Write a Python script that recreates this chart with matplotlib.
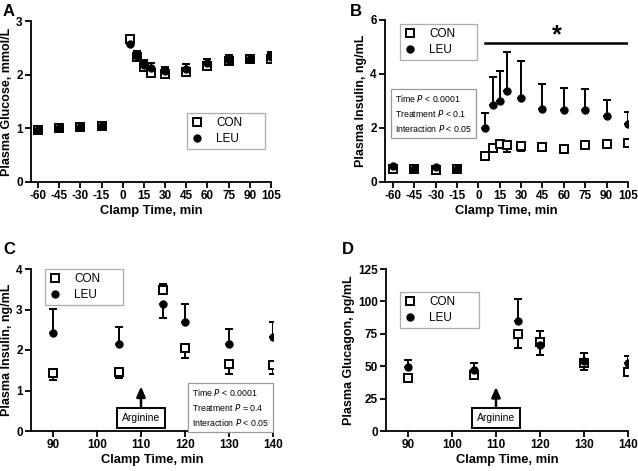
import matplotlib.pyplot as plt
import numpy as np

plt.rcParams['font.family'] = ['Liberation Sans', 'DejaVu Sans']
plt.rcParams['axes.unicode_minus'] = False

# Panel A: plasma glucose
t_ab = [-60, -45, -30, -15, 5, 10, 15, 20, 30, 45, 60, 75, 90, 105]
glu_con = [0.97, 1.01, 1.03, 1.04, 2.67, 2.33, 2.15, 2.04, 2.02, 2.05, 2.16, 2.26, 2.30, 2.30]
glu_con_hi = [0.02, 0.02, 0.03, 0.03, 0.06, 0.10, 0.10, 0.08, 0.08, 0.08, 0.08, 0.06, 0.06, 0.08]
glu_leu = [0.97, 1.01, 1.02, 1.04, 2.58, 2.35, 2.18, 2.13, 2.07, 2.10, 2.22, 2.28, 2.30, 2.33]
glu_leu_hi = [0.02, 0.02, 0.03, 0.03, 0.05, 0.10, 0.09, 0.08, 0.08, 0.10, 0.08, 0.08, 0.06, 0.10]

# Panel B: plasma insulin during clamp
ins_con = [0.50, 0.50, 0.45, 0.48, 0.97, 1.26, 1.42, 1.37, 1.33, 1.28, 1.22, 1.38, 1.42, 1.45]
ins_con_lo = [0.05, 0.04, 0.04, 0.04, 0.17, 0.16, 0.14, 0.27, 0.18, 0.08, 0.10, 0.10, 0.04, 0.05]
ins_leu = [0.60, 0.50, 0.55, 0.48, 2.01, 2.86, 3.00, 3.37, 3.11, 2.70, 2.65, 2.65, 2.43, 2.16]
ins_leu_hi = [0.03, 0.03, 0.03, 0.03, 0.56, 1.04, 1.10, 1.44, 1.38, 0.94, 0.83, 0.79, 0.61, 0.43]

# Panels C and D: arginine challenge
t_cd = [90, 105, 115, 120, 130, 140]
arg_ins_con = [1.43, 1.45, 3.47, 2.05, 1.65, 1.62]
arg_ins_con_lo = [0.17, 0.15, 0.0, 0.25, 0.25, 0.22]
arg_ins_con_hi = [0.0, 0.0, 0.17, 0.0, 0.0, 0.0]
arg_ins_leu = [2.42, 2.14, 3.13, 2.70, 2.16, 2.33]
arg_ins_leu_lo = [0.0, 0.0, 0.33, 0.0, 0.0, 0.0]
arg_ins_leu_hi = [0.60, 0.43, 0.0, 0.43, 0.36, 0.36]

gcg_con = [40.7, 43.3, 74.7, 68.6, 52.3, 45.9]
gcg_con_lo = [0.0, 0.0, 10.7, 0.0, 5.3, 0.0]
gcg_con_hi = [0.0, 0.0, 0.0, 8.2, 0.0, 0.0]
gcg_leu = [49.2, 47.2, 84.5, 66.0, 54.0, 52.3]
gcg_leu_lo = [0.0, 0.0, 0.0, 7.2, 0.0, 0.0]
gcg_leu_hi = [5.2, 5.6, 17.5, 0.0, 6.0, 5.2]

fig = plt.figure(figsize=(6.38, 4.71), dpi=100)
W, H = 638, 471


def make_ax(l, r, t, b):
    return fig.add_axes([l / W, 1 - b / H, (r - l) / W, (b - t) / H])


def style(ax, xlabel, ylabel):
    for s in ['top', 'right']:
        ax.spines[s].set_visible(False)
    for s in ['left', 'bottom']:
        ax.spines[s].set_linewidth(1.3)
    ax.tick_params(width=1.3, length=4, labelsize=8.5, pad=2)
    for lab in ax.get_xticklabels() + ax.get_yticklabels():
        lab.set_fontweight('bold')
    ax.set_xlabel(xlabel, fontsize=9.3, fontweight='bold', labelpad=2)
    ax.set_ylabel(ylabel, fontsize=9, fontweight='bold', labelpad=2)


def series(ax, x, y, lo, hi, marker, label):
    ax.errorbar(x, y, yerr=[lo, hi], fmt='none', ecolor='black',
                elinewidth=1.4, capsize=3, capthick=1.4, zorder=2)
    if marker == 's':
        ax.plot(x, y, 's', ms=5.5, mfc='white', mec='black', mew=1.4,
                ls='none', label=label, zorder=3)
    else:
        ax.plot(x, y, 'o', ms=5, color='black', ls='none', label=label, zorder=4)


def legend(ax, x0, top, width):
    # frame stretched to the reference width, entries kept on the left
    lg = ax.legend(loc='upper left', bbox_to_anchor=(x0, top - 0.3, width, 0.3),
                   mode='expand', fontsize=8.5, frameon=True,
                   fancybox=False, edgecolor='#999999', handletextpad=1.1,
                   borderpad=0.35, labelspacing=0.35, handlelength=1.0,
                   borderaxespad=0)
    lg.get_frame().set_linewidth(0.9)


def stats_box(ax, x, y, lines):
    ax.text(x, y, '\n'.join(lines), transform=ax.transAxes, fontsize=6.3,
            va='top', ha='left', linespacing=1.45,
            bbox=dict(boxstyle='square,pad=0.45', fc='white', ec='#999999', lw=0.9))


def arginine(ax, y_tip, y_text):
    ax.annotate('Arginine', xy=(110, y_tip), xytext=(110, y_text),
                ha='center', va='center', fontsize=7.5,
                bbox=dict(boxstyle='square,pad=0.45', fc='white', ec='black', lw=1.4),
                arrowprops=dict(arrowstyle='-|>,head_width=0.35,head_length=0.8',
                                color='black', lw=1.8, shrinkA=0, shrinkB=0))


xt_ab = [-60, -45, -30, -15, 0, 15, 30, 45, 60, 75, 90, 105]
zeros = [0] * len(t_ab)

# A
ax = make_ax(31, 271, 21, 182)
series(ax, t_ab, glu_con, zeros, glu_con_hi, 's', 'CON')
series(ax, t_ab, glu_leu, zeros, glu_leu_hi, 'o', 'LEU')
ax.set_xlim(-65, 105)
ax.set_ylim(0, 3)
ax.set_xticks(xt_ab)
ax.set_yticks([0, 1, 2, 3])
style(ax, 'Clamp Time, min', 'Plasma Glucose, mmol/L')
legend(ax, 0.65, 0.429, 0.325)
fig.text(3 / W, 1 - 16 / H, 'A', fontsize=12, fontweight='bold')

# B
ax = make_ax(385, 628, 20, 182)
series(ax, t_ab, ins_con, ins_con_lo, zeros, 's', 'CON')
series(ax, t_ab, ins_leu, zeros, ins_leu_hi, 'o', 'LEU')
ax.plot([5, 105], [5.15, 5.15], color='black', lw=1.8)
ax.text(55, 5.0, '*', ha='center', va='bottom', fontsize=18, fontweight='bold')
ax.set_xlim(-65.5, 105)
ax.set_ylim(0, 6)
ax.set_xticks(xt_ab)
ax.set_yticks([0, 2, 4, 6])
style(ax, 'Clamp Time, min', 'Plasma Insulin, ng/mL')
legend(ax, 0.062, 0.975, 0.317)
stats_box(ax, 0.04, 0.55, ['Time $P$ < 0.0001', 'Treatment $P$ < 0.1',
                           'Interaction $P$ < 0.05'])
fig.text(350 / W, 1 - 16 / H, 'B', fontsize=12, fontweight='bold')

# C
ax = make_ax(31, 273, 269, 431)
series(ax, t_cd, arg_ins_con, arg_ins_con_lo, arg_ins_con_hi, 's', 'CON')
series(ax, t_cd, arg_ins_leu, arg_ins_leu_lo, arg_ins_leu_hi, 'o', 'LEU')
arginine(ax, 1.1, 0.32)
ax.set_xlim(85, 140)
ax.set_ylim(0, 4)
ax.set_xticks([90, 100, 110, 120, 130, 140])
ax.set_yticks([0, 1, 2, 3, 4])
style(ax, 'Clamp Time, min', 'Plasma Insulin, ng/mL')
legend(ax, 0.058, 1.0, 0.322)
stats_box(ax, 0.665, 0.27, ['Time $P$ < 0.0001', 'Treatment $P$ = 0.4',
                            'Interaction $P$ < 0.05'])
fig.text(3 / W, 1 - 254 / H, 'C', fontsize=12, fontweight='bold')

# D
ax = make_ax(386, 628, 269, 431)
series(ax, t_cd, gcg_con, gcg_con_lo, gcg_con_hi, 's', 'CON')
series(ax, t_cd, gcg_leu, gcg_leu_lo, gcg_leu_hi, 'o', 'LEU')
arginine(ax, 34, 10)
ax.set_xlim(85, 140)
ax.set_ylim(0, 125)
ax.set_xticks([90, 100, 110, 120, 130, 140])
ax.set_yticks([0, 25, 50, 75, 100, 125])
style(ax, 'Clamp Time, min', 'Plasma Glucagon, pg/mL')
legend(ax, 0.058, 0.858, 0.326)
fig.text(342 / W, 1 - 254 / H, 'D', fontsize=12, fontweight='bold')

fig.savefig('out.png', dpi=100)
